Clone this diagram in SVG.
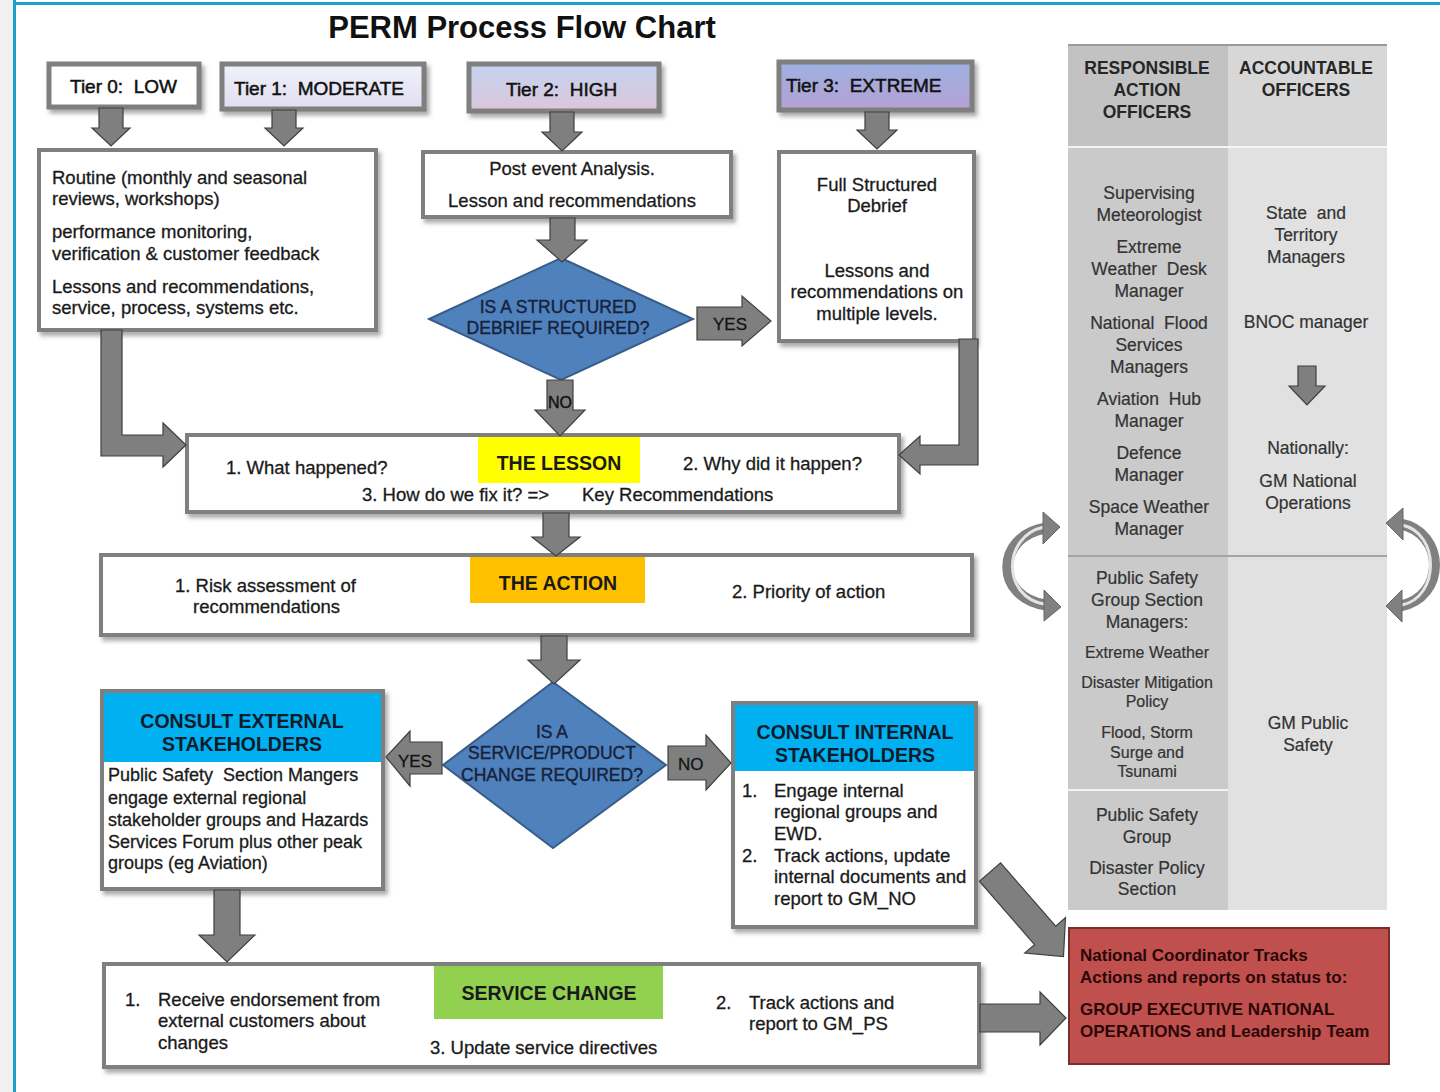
<svg xmlns="http://www.w3.org/2000/svg" width="1440" height="1092" viewBox="0 0 1440 1092">
<defs>
<style>
.t{font-family:"Liberation Sans",Arial,sans-serif;font-size:18.5px;fill:#1a1a1a;stroke:#1a1a1a;stroke-width:0.3}
.b{font-weight:bold}
.c{text-anchor:middle}
.tier{font-size:19px;fill:#111;stroke:#111;stroke-width:0.5}
.box{fill:#fff;stroke:#7f7f7f;stroke-width:4}
.arr{fill:#7f7f7f;stroke:#3f3f3f;stroke-width:1.2}
.dia{fill:#4f81bd;stroke:#385d8a;stroke-width:2}
.dt{font-size:17.5px;fill:#17223b;stroke:#17223b;stroke-width:0.4}
.tb{font-size:17.5px;fill:#333;stroke:#333;stroke-width:0.2}
.th{font-size:17.5px;fill:#262626;stroke:none;font-weight:bold}
.red{font-size:17px;font-weight:bold;fill:#2a0808;stroke:none}
.crv{fill:none;stroke:#808080;stroke-width:11}
.crvh{fill:none;stroke:#e4e4e4;stroke-width:3}
</style>
<filter id="sh" x="-10%" y="-10%" width="130%" height="140%">
<feDropShadow dx="3" dy="4" stdDeviation="2" flood-color="#666" flood-opacity="0.55"/>
</filter>
<linearGradient id="g1" x1="0" y1="0" x2="0" y2="1"><stop offset="0" stop-color="#f0f2fb"/><stop offset="1" stop-color="#e2ddef"/></linearGradient>
<linearGradient id="g2" x1="0" y1="0" x2="0" y2="1"><stop offset="0" stop-color="#c4d3ef"/><stop offset="1" stop-color="#dcc6dc"/></linearGradient>
<linearGradient id="g3" x1="0" y1="0" x2="0" y2="1"><stop offset="0" stop-color="#9db2e2"/><stop offset="1" stop-color="#b5a0d2"/></linearGradient>
</defs>

<rect x="0" y="0" width="1440" height="1092" fill="#ffffff"/>
<rect x="0" y="0" width="13" height="1092" fill="#f0f0f0"/>
<rect x="13" y="0" width="3" height="1092" fill="#1aa1cf"/>
<rect x="13" y="2" width="1427" height="3" fill="#1aa1cf"/>

<text class="t b" x="522" y="38" text-anchor="middle" style="font-size:31px;fill:#111;stroke:none">PERM Process Flow Chart</text>

<!-- Responsibility table -->
<g id="table">
<rect x="1068" y="45" width="160" height="102" fill="#c2c2c2"/>
<rect x="1228" y="45" width="159" height="102" fill="#d7d7d7"/>
<rect x="1068" y="148" width="160" height="762" fill="#cacaca"/>
<rect x="1228" y="148" width="159" height="762" fill="#e1e1e1"/>
<rect x="1068" y="44" width="319" height="2" fill="#9a9a9a"/>
<rect x="1068" y="146" width="319" height="2" fill="#f4f4f4"/>
<rect x="1068" y="555" width="319" height="2" fill="#a4a4a4"/>
<rect x="1068" y="789" width="160" height="2" fill="#f4f4f4"/>
<text class="t th c" x="1147" y="74">RESPONSIBLE</text>
<text class="t th c" x="1147" y="96">ACTION</text>
<text class="t th c" x="1147" y="118">OFFICERS</text>
<text class="t th c" x="1306" y="74">ACCOUNTABLE</text>
<text class="t th c" x="1306" y="96">OFFICERS</text>
<text class="t tb c" x="1149" y="199">Supervising</text>
<text class="t tb c" x="1149" y="221">Meteorologist</text>
<text class="t tb c" x="1149" y="253">Extreme</text>
<text class="t tb c" x="1149" y="275" xml:space="preserve">Weather  Desk</text>
<text class="t tb c" x="1149" y="297">Manager</text>
<text class="t tb c" x="1149" y="329" xml:space="preserve">National  Flood</text>
<text class="t tb c" x="1149" y="351">Services</text>
<text class="t tb c" x="1149" y="373">Managers</text>
<text class="t tb c" x="1149" y="405" xml:space="preserve">Aviation  Hub</text>
<text class="t tb c" x="1149" y="427">Manager</text>
<text class="t tb c" x="1149" y="459">Defence</text>
<text class="t tb c" x="1149" y="481">Manager</text>
<text class="t tb c" x="1149" y="513">Space Weather</text>
<text class="t tb c" x="1149" y="535">Manager</text>
<text class="t tb c" x="1147" y="584">Public Safety</text>
<text class="t tb c" x="1147" y="606">Group Section</text>
<text class="t tb c" x="1147" y="628">Managers:</text>
<text class="t tb c" x="1147" y="658" style="font-size:16px">Extreme Weather</text>
<text class="t tb c" x="1147" y="688" style="font-size:16px">Disaster Mitigation</text>
<text class="t tb c" x="1147" y="707" style="font-size:16px">Policy</text>
<text class="t tb c" x="1147" y="738" style="font-size:16px">Flood, Storm</text>
<text class="t tb c" x="1147" y="758" style="font-size:16px">Surge and</text>
<text class="t tb c" x="1147" y="777" style="font-size:16px">Tsunami</text>
<text class="t tb c" x="1147" y="821">Public Safety</text>
<text class="t tb c" x="1147" y="843">Group</text>
<text class="t tb c" x="1147" y="874">Disaster Policy</text>
<text class="t tb c" x="1147" y="895">Section</text>
<text class="t tb c" x="1306" y="219" xml:space="preserve">State  and</text>
<text class="t tb c" x="1306" y="241">Territory</text>
<text class="t tb c" x="1306" y="263">Managers</text>
<text class="t tb c" x="1306" y="328">BNOC manager</text>
<polygon class="arr" points="1298,366 1316,366 1316,386 1325,386 1307,405 1289,386 1298,386"/>
<text class="t tb c" x="1308" y="454">Nationally:</text>
<text class="t tb c" x="1308" y="487">GM National</text>
<text class="t tb c" x="1308" y="509">Operations</text>
<text class="t tb c" x="1308" y="729">GM Public</text>
<text class="t tb c" x="1308" y="751">Safety</text>
</g>

<!-- Nodes -->
<g id="tier0">
<rect class="box" x="49" y="64" width="150" height="43" style="stroke-width:5" filter="url(#sh)"/>
<text class="t tier" x="70" y="93" xml:space="preserve">Tier 0:  LOW</text>
</g>
<g id="tier1">
<rect class="box" x="222" y="64" width="202" height="45" style="stroke-width:5;fill:url(#g1)" filter="url(#sh)"/>
<text class="t tier" x="234" y="95" xml:space="preserve">Tier 1:  MODERATE</text>
</g>
<g id="tier2">
<rect class="box" x="469" y="64" width="190" height="47" style="stroke-width:5;fill:url(#g2)" filter="url(#sh)"/>
<text class="t tier" x="506" y="96" xml:space="preserve">Tier 2:  HIGH</text>
</g>
<g id="tier3">
<rect class="box" x="779" y="62" width="193" height="48" style="stroke-width:5;fill:url(#g3)" filter="url(#sh)"/>
<text class="t tier" x="786" y="92" xml:space="preserve">Tier 3:  EXTREME</text>
</g>

<g id="routine">
<rect class="box" x="39" y="150" width="337" height="180" filter="url(#sh)"/>
<text class="t" x="52" y="184">Routine (monthly and seasonal</text>
<text class="t" x="52" y="205">reviews, workshops)</text>
<text class="t" x="52" y="238">performance monitoring,</text>
<text class="t" x="52" y="260">verification &amp; customer feedback</text>
<text class="t" x="52" y="293">Lessons and recommendations,</text>
<text class="t" x="52" y="314">service, process, systems etc.</text>
</g>

<g id="postevent">
<rect class="box" x="423" y="152" width="308" height="65" filter="url(#sh)"/>
<text class="t c" x="572" y="175">Post event Analysis.</text>
<text class="t c" x="572" y="207">Lesson and recommendations</text>
</g>

<g id="fulldebrief">
<rect class="box" x="779" y="152" width="195" height="189" filter="url(#sh)"/>
<text class="t c" x="877" y="191">Full Structured</text>
<text class="t c" x="877" y="212">Debrief</text>
<text class="t c" x="877" y="277">Lessons and</text>
<text class="t c" x="877" y="298">recommendations on</text>
<text class="t c" x="877" y="320">multiple levels.</text>
</g>

<g id="diamond1">
<polygon class="dia" points="561,258 693,319 561,380 429,319"/>
<text class="t dt c" x="558" y="313">IS A STRUCTURED</text>
<text class="t dt c" x="558" y="334">DEBRIEF REQUIRED?</text>
</g>

<g id="lesson">
<rect class="box" x="187" y="435" width="712" height="77" filter="url(#sh)"/>
<rect x="478" y="437" width="162" height="46" fill="#ffff00"/>
<text class="t b c" x="559" y="470" style="font-size:19.5px;stroke:none">THE LESSON</text>
<text class="t" x="226" y="474">1. What happened?</text>
<text class="t" x="683" y="470">2. Why did it happen?</text>
<text class="t" x="362" y="501">3. How do we fix it? =&gt;</text>
<text class="t" x="582" y="501">Key Recommendations</text>
</g>

<g id="action">
<rect class="box" x="101" y="555" width="871" height="80" filter="url(#sh)"/>
<rect x="470" y="557" width="175" height="46" fill="#ffc000"/>
<text class="t b c" x="558" y="590" style="font-size:19.5px;stroke:none">THE ACTION</text>
<text class="t" x="175" y="592">1. Risk assessment of</text>
<text class="t" x="193" y="613">recommendations</text>
<text class="t" x="732" y="598">2. Priority of action</text>
</g>

<g id="diamond2">
<polygon class="dia" points="553,682 666,765 553,848 443,765"/>
<text class="t dt c" x="552" y="738">IS A</text>
<text class="t dt c" x="552" y="759">SERVICE/PRODUCT</text>
<text class="t dt c" x="552" y="781">CHANGE REQUIRED?</text>
</g>

<g id="external">
<rect class="box" x="102" y="691" width="281" height="198" filter="url(#sh)"/>
<rect x="104" y="693" width="277" height="69" fill="#00b0f0"/>
<text class="t b c" x="242" y="728" style="font-size:19.5px;fill:#0d1b2a;stroke:none">CONSULT EXTERNAL</text>
<text class="t b c" x="242" y="751" style="font-size:19.5px;fill:#0d1b2a;stroke:none">STAKEHOLDERS</text>
<text class="t" x="108" y="781" style="font-size:18px" xml:space="preserve">Public Safety  Section Mangers</text>
<text class="t" x="108" y="804" style="font-size:18px">engage external regional</text>
<text class="t" x="108" y="826" style="font-size:18px">stakeholder groups and Hazards</text>
<text class="t" x="108" y="848" style="font-size:18px">Services Forum plus other peak</text>
<text class="t" x="108" y="869" style="font-size:18px">groups (eg Aviation)</text>
</g>

<g id="internal">
<rect class="box" x="733" y="703" width="243" height="224" filter="url(#sh)"/>
<rect x="735" y="705" width="239" height="66" fill="#00b0f0"/>
<text class="t b c" x="855" y="739" style="font-size:19.5px;fill:#0d1b2a;stroke:none">CONSULT INTERNAL</text>
<text class="t b c" x="855" y="762" style="font-size:19.5px;fill:#0d1b2a;stroke:none">STAKEHOLDERS</text>
<text class="t" x="742" y="797">1.</text>
<text class="t" x="774" y="797">Engage internal</text>
<text class="t" x="774" y="818">regional groups and</text>
<text class="t" x="774" y="840">EWD.</text>
<text class="t" x="742" y="862">2.</text>
<text class="t" x="774" y="862">Track actions, update</text>
<text class="t" x="774" y="883">internal documents and</text>
<text class="t" x="774" y="905">report to GM_NO</text>
</g>

<g id="servicechange">
<rect class="box" x="104" y="964" width="875" height="103" filter="url(#sh)"/>
<rect x="434" y="966" width="229" height="53" fill="#92d050"/>
<text class="t b c" x="549" y="1000" style="font-size:19.5px;stroke:none">SERVICE CHANGE</text>
<text class="t" x="125" y="1006">1.</text>
<text class="t" x="158" y="1006">Receive endorsement from</text>
<text class="t" x="158" y="1027">external customers about</text>
<text class="t" x="158" y="1049">changes</text>
<text class="t" x="716" y="1009">2.</text>
<text class="t" x="749" y="1009">Track actions and</text>
<text class="t" x="749" y="1030">report to GM_PS</text>
<text class="t" x="430" y="1054">3. Update service directives</text>
</g>

<g id="national">
<rect x="1069" y="928" width="320" height="136" fill="#c0504d" stroke="#7b2b29" stroke-width="2"/>
<text class="t red" x="1080" y="961">National Coordinator Tracks</text>
<text class="t red" x="1080" y="983">Actions and reports on status to:</text>
<text class="t red" x="1080" y="1015">GROUP EXECUTIVE NATIONAL</text>
<text class="t red" x="1080" y="1037">OPERATIONS and Leadership Team</text>
</g>

<!-- Connectors -->
<g id="connectors">
<polygon class="arr" points="99,108 123,108 123,128 130,128 111,146 92,128 99,128"/>
<polygon class="arr" points="272,110 296,110 296,128 303,128 284,146 265,128 272,128"/>
<polygon class="arr" points="550,112 574,112 574,132 582,132 562,151 542,132 550,132"/>
<polygon class="arr" points="865,112 889,112 889,130 897,130 877,149 857,130 865,130"/>
<polygon class="arr" points="550,218 575,218 575,240 587,240 562,262 537,240 550,240"/>
<polygon class="arr" points="547,380 573,380 573,410 585,410 560,436 535,410 547,410"/>
<text class="t dt c" x="560" y="408" style="font-size:16px;fill:#111;stroke:#111">NO</text>
<polygon class="arr" points="697,307 742,307 742,296 771,321 742,346 742,340 697,340"/>
<text class="t" x="713" y="330" style="font-size:17px;fill:#111">YES</text>
<polygon class="arr" points="101,330 122,330 122,435 163,435 163,423 186,445 163,467 163,456 101,456"/>
<polygon class="arr" points="959,339 978,339 978,465 920,465 920,474 899,455 920,436 920,445 959,445"/>
<polygon class="arr" points="543,513 569,513 569,537 580,537 556,556 532,537 543,537"/>
<polygon class="arr" points="541,636 567,636 567,660 580,660 554,684 528,660 541,660"/>
<polygon class="arr" points="442,742 410,742 410,731 386,757 410,786 410,774 442,774"/>
<text class="t" x="398" y="767" style="font-size:17px;fill:#111">YES</text>
<polygon class="arr" points="668,746 706,746 706,735 731,763 706,790 706,780 668,780"/>
<text class="t" x="678" y="770" style="font-size:17px;fill:#111">NO</text>
<polygon class="arr" points="214,890 240,890 240,935 255,935 227,962 199,935 214,935"/>
<polygon class="arr" transform="translate(990,872) rotate(49)" points="0,-14 84,-14 84,-27 112,0 84,27 84,14 0,14"/>
<polygon class="arr" points="980,1004 1040,1004 1040,992 1066,1018 1040,1045 1040,1032 980,1032"/>
<path class="crv" d="M1046,528 C995,536 995,598 1046,605"/>
<path class="crvh" d="M1044,527 C1002,536 1002,597 1044,604"/>
<polygon points="1043,512 1060,527 1043,544" fill="#808080" stroke="#666" stroke-width="1"/>
<polygon points="1044,590 1061,607 1044,621" fill="#808080" stroke="#666" stroke-width="1"/>
<path class="crv" d="M1400,524 C1446,532 1446,598 1400,606"/>
<path class="crvh" d="M1402,525 C1440,533 1440,597 1402,605"/>
<polygon points="1403,508 1386,523 1403,540" fill="#808080" stroke="#666" stroke-width="1"/>
<polygon points="1402,590 1386,606 1402,622" fill="#808080" stroke="#666" stroke-width="1"/>
</g>
</svg>
